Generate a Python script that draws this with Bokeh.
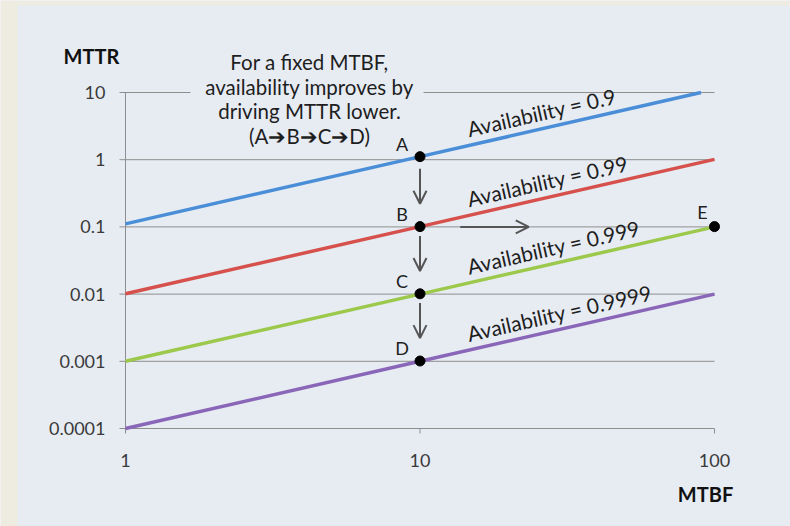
import numpy as np
from bokeh.plotting import figure
from bokeh.models import Range1d, Label, Arrow, OpenHead, ColumnDataSource, BoxAnnotation
from bokeh.core.properties import value
from bokeh.embed import file_html
from bokeh.resources import INLINE

# ---- data ----
mtbf_09 = [1, 10, 90]
mttr_09 = [0.111, 1.11, 10]
mtbf = [1, 10, 100]
mttr_099 = [0.0101, 0.101, 1.01]
mttr_0999 = [0.001, 0.01, 0.1]
mttr_09999 = [0.0001, 0.001, 0.01]
series_names = ["Availability = 0.9", "Availability = 0.99",
                "Availability = 0.999", "Availability = 0.9999"]

pt_x = [10, 10, 10, 10, 100]
pt_y = [1.11, 0.101, 0.0101, 0.00101, 0.101]
pt_labels = ["A", "B", "C", "D", "E"]

arrow_x0 = [10, 10, 10, 13.7]
arrow_y0 = [0.735, 0.0735, 0.00735, 0.1]
arrow_x1 = [10, 10, 10, 23.4]
arrow_y1 = [0.221, 0.0221, 0.00221, 0.1]

x_ticks = [1, 10, 100]
x_tick_labels = ["1", "10", "100"]
y_ticks = [0.0001, 0.001, 0.01, 0.1, 1, 10]
y_tick_labels = ["0.0001", "0.001", "0.01", "0.1", "1", "10"]

note_lines = ["For a fixed MTBF,", "availability improves by",
              "driving MTTR lower.", "(A\u2794B\u2794C\u2794D)"]

# ---- layout / style ----
W, H = 790, 526
PX_X = 294.5          # pixels per decade, x
PX_Y = 67.2           # pixels per decade, y
X0_PX, Y0_PX = 125, 428   # pixel position of (1, 0.0001)
PANEL = "#e7ecf3"
BEIGE = "#eeece1"
GRID = "#8e8e8e"
FONT = "Lato"
colors = ["#4a8ed8", "#d6504c", "#9cc94c", "#8a66b8"]

def xpx(px):   # data x at a pixel column
    return 10 ** ((px - X0_PX) / PX_X)

def ypx(py):   # data y at a pixel row
    return 10 ** (-4 + (Y0_PX - py) / PX_Y)

p = figure(width=W, height=H, x_axis_type="log", y_axis_type="log",
           x_axis_location=None, y_axis_location=None,
           output_backend="svg", toolbar_location=None,
           x_range=Range1d(xpx(0), xpx(W)), y_range=Range1d(ypx(H), ypx(0)),
           min_border=0)
p.background_fill_color = PANEL
p.border_fill_color = PANEL
p.outline_line_color = None
p.grid.visible = False

# beige outer strips
p.add_layout(BoxAnnotation(right=xpx(17), fill_color=BEIGE, fill_alpha=1,
                           line_color=None, level="underlay"))
p.add_layout(BoxAnnotation(bottom=ypx(5), fill_color=BEIGE, fill_alpha=1,
                           line_color=None, level="underlay"))

# gridlines (with the y tick marks), axis lines, x tick marks
tick_left = xpx(X0_PX - 6)
p.segment(x0=[tick_left] * len(y_ticks), y0=y_ticks, x1=[100] * len(y_ticks), y1=y_ticks,
          line_color=GRID, line_width=1)
p.segment(x0=[1], y0=[y_ticks[0]], x1=[1], y1=[y_ticks[-1]], line_color=GRID, line_width=1)
p.segment(x0=x_ticks, y0=[y_ticks[0]] * 3, x1=x_ticks, y1=[ypx(Y0_PX + 5)] * 3,
          line_color=GRID, line_width=1)

# tick labels
p.text(x=[1] * len(y_ticks), y=y_ticks, text=y_tick_labels, x_offset=-20,
       text_font=value(FONT), text_font_size="18px", text_color="#3a3a3a",
       text_align="right", text_baseline="middle")
p.text(x=x_ticks, y=[y_ticks[0]] * 3, text=x_tick_labels, y_offset=32,
       text_font=value(FONT), text_font_size="18px", text_color="#3a3a3a",
       text_align="center", text_baseline="middle")

# series
all_x = [mtbf_09, mtbf, mtbf, mtbf]
all_y = [mttr_09, mttr_099, mttr_0999, mttr_09999]
for xs, ys, c in zip(all_x, all_y, colors):
    p.line(xs, ys, line_color=c, line_width=3.5)

# series labels along lines
lab_x = 14.8
slope_angle = np.arctan2(PX_Y, PX_X)
lab_y = [10 ** np.interp(np.log10(lab_x), np.log10(xs), np.log10(ys))
         for xs, ys in zip(all_x, all_y)]
p.text(x=[lab_x] * 4, y=lab_y, text=series_names, angle=slope_angle,
       text_font=value(FONT), text_font_size="21px", text_color="#1e1e1e",
       text_baseline="bottom", text_align="left", y_offset=-4)

# arrows
asrc = ColumnDataSource(dict(x0=arrow_x0, y0=arrow_y0, x1=arrow_x1, y1=arrow_y1))
p.add_layout(Arrow(end=OpenHead(size=13, line_color="#555555", line_width=2),
                   x_start="x0", y_start="y0", x_end="x1", y_end="y1", source=asrc,
                   line_color="#555555", line_width=2))

# points
p.scatter(pt_x, pt_y, size=10, color="black")
p.text(x=pt_x[:4], y=pt_y[:4], text=pt_labels[:4], x_offset=-18, y_offset=-13,
       text_font=value(FONT), text_font_size="18px", text_color="#1e1e1e",
       text_align="center", text_baseline="middle")
p.text(x=pt_x[4:], y=pt_y[4:], text=pt_labels[4:], x_offset=-12, y_offset=-15,
       text_font=value(FONT), text_font_size="18px", text_color="#1e1e1e",
       text_align="center", text_baseline="middle")

# note text box (gap in the top gridline behind it)
p.add_layout(BoxAnnotation(left=xpx(190), right=xpx(423), bottom=ypx(100), top=ypx(84),
                           fill_color=PANEL, fill_alpha=1, line_color=None))
for line, py in zip(note_lines, [61, 86, 110.5, 135]):
    p.add_layout(Label(x=309, y=H - py, x_units="screen", y_units="screen",
                       text=line, text_align="center", text_baseline="middle",
                       text_font=FONT, text_font_size="20.5px", text_color="#1e1e1e"))

# axis titles
p.add_layout(Label(x=91, y=H - 55, x_units="screen", y_units="screen", text="MTTR",
                   text_align="center", text_baseline="middle", text_font=FONT,
                   text_font_size="20px", text_font_style="bold", text_color="#111111"))
p.add_layout(Label(x=705, y=H - 493, x_units="screen", y_units="screen", text="MTBF",
                   text_align="center", text_baseline="middle", text_font=FONT,
                   text_font_size="20px", text_font_style="bold", text_color="#111111"))

open("out.html", "w").write(file_html(p, INLINE))
